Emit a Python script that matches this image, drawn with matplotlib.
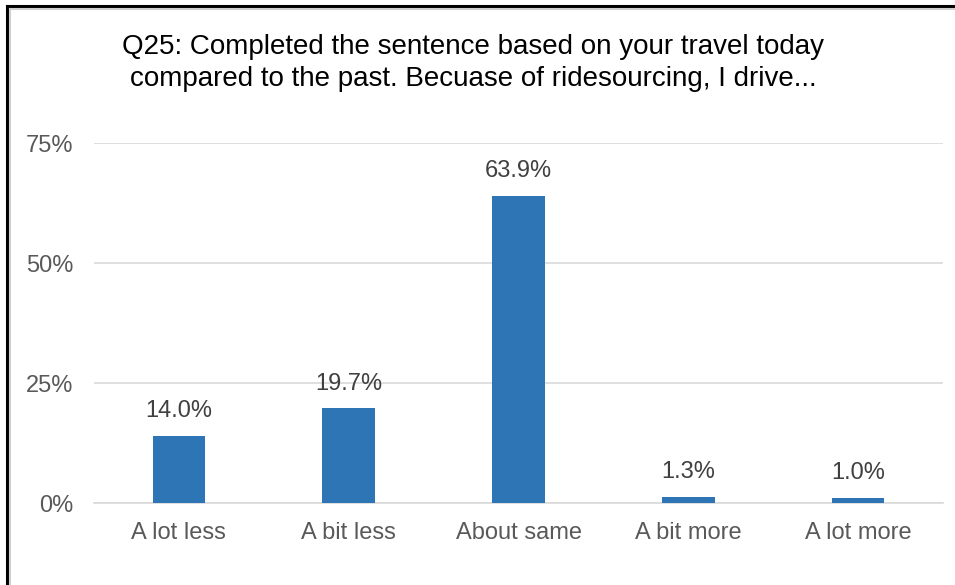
import numpy as np
import matplotlib.pyplot as plt
from matplotlib.lines import Line2D
from matplotlib.ticker import FuncFormatter

plt.rcParams['font.family'] = ['Liberation Sans', 'DejaVu Sans']

categories = ["A lot less", "A bit less", "About same", "A bit more", "A lot more"]
shares = [0.140, 0.197, 0.639, 0.013, 0.010]
yticks = [0, 0.25, 0.50, 0.75]
title = ("Q25: Completed the sentence based on your travel today\n"
         "compared to the past. Becuase of ridesourcing, I drive...")

W, H = 955, 585
fig = plt.figure(figsize=(W / 100, H / 100), dpi=100)
ax = fig.add_axes([94 / W, 1 - 503 / H, (943 - 94) / W, (503 - 143) / H])

x = np.arange(len(categories))
bars = ax.bar(x, shares, width=0.31, color="#2E75B6", zorder=3)

for b, v in zip(bars, shares):
    ax.annotate(f"{v * 100:.1f}%", (b.get_x() + b.get_width() / 2, v),
                xytext=(0, 10), textcoords="offset points",
                ha="center", va="bottom", fontsize=17, color="#404040")

ax.set_xlim(-0.5, len(categories) - 0.5)
ax.set_ylim(0, 0.75)
ax.set_yticks(yticks)
ax.yaxis.set_major_formatter(FuncFormatter(lambda v, p: f"{v * 100:.0f}%"))
ax.set_xticks(x)
ax.set_xticklabels(categories)
ax.tick_params(axis="both", length=0, labelsize=17, colors="#595959")
ax.tick_params(axis="x", pad=14)
ax.tick_params(axis="y", pad=15)
ax.grid(axis="y", color="#D9D9D9", linewidth=1.2, zorder=0)
for s in ["top", "right", "left"]:
    ax.spines[s].set_visible(False)
ax.spines["bottom"].set_color("#D9D9D9")
ax.spines["bottom"].set_linewidth(1.2)

fig.text(473 / W, 1 - 63 / H, title, ha="center", va="center",
         fontsize=20, color="#000000", linespacing=1.3)

# frame lines (top and left only)
fig.add_artist(Line2D([7 / W, 1], [1 - 6 / H, 1 - 6 / H], color="black", lw=2.2,
                      transform=fig.transFigure))
fig.add_artist(Line2D([7 / W, 7 / W], [0, 1 - 6 / H], color="black", lw=2.2,
                      transform=fig.transFigure))
fig.add_artist(Line2D([10 / W, 1], [1 - 9 / H, 1 - 9 / H], color="#D0D0D0", lw=1.5,
                      transform=fig.transFigure))
fig.add_artist(Line2D([10 / W, 10 / W], [0, 1 - 9 / H], color="#D0D0D0", lw=1.5,
                      transform=fig.transFigure))

fig.savefig("out.png", dpi=100)
plt.close(fig)
